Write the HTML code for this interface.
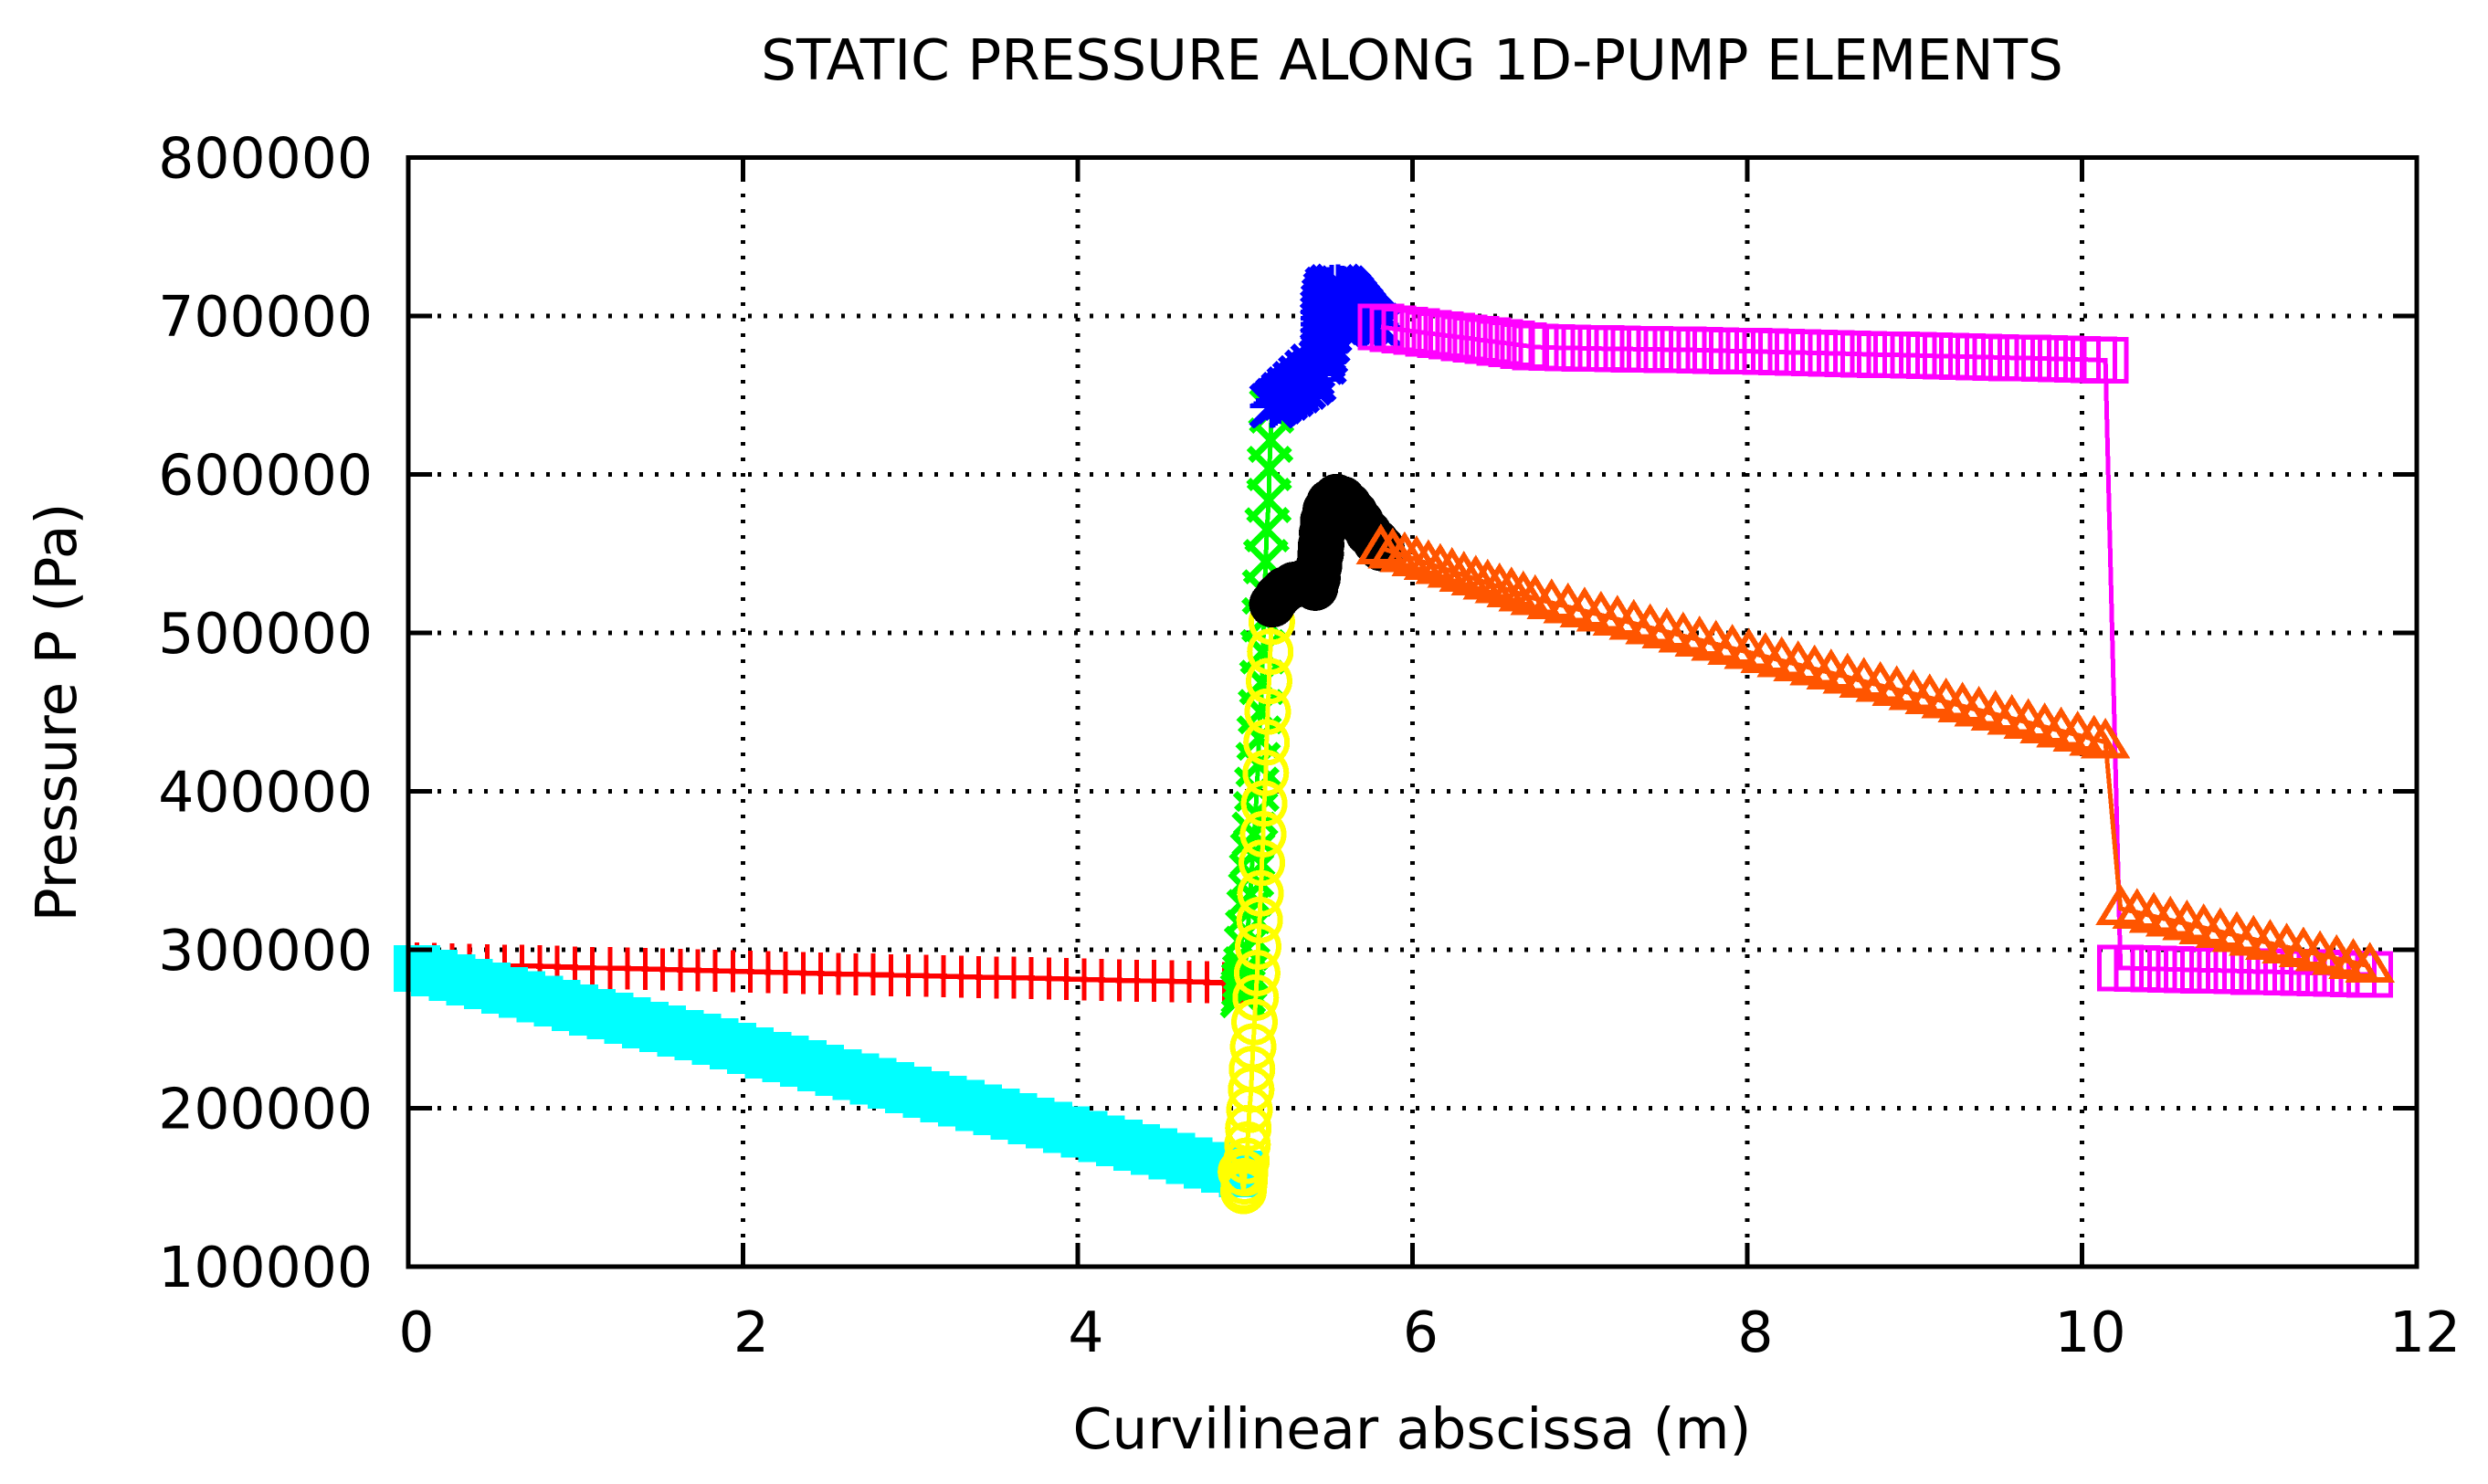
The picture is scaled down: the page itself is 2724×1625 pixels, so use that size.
<!DOCTYPE html>
<html>
<head>
<meta charset="utf-8">
<style>
html,body{margin:0;padding:0;background:#fff;width:2724px;height:1625px;overflow:hidden}
svg{display:block}
text{font-family:"DejaVu Sans","Liberation Sans",sans-serif;fill:#000}
</style>
</head>
<body>
<svg id="chart" xmlns="http://www.w3.org/2000/svg" width="2724" height="1625" viewBox="0 0 2724 1625">
<rect x="0" y="0" width="2724" height="1625" fill="#fff"/>
<g id="grid" shape-rendering="crispEdges"></g>
<g id="series" shape-rendering="crispEdges"></g>
<g id="axes" shape-rendering="crispEdges"></g>
<g id="labels"></g>
<text x="1546" y="87" font-size="61.2" text-anchor="middle">STATIC PRESSURE ALONG 1D-PUMP ELEMENTS</text>
<text x="1546" y="1586" font-size="61.5" text-anchor="middle">Curvilinear abscissa (m)</text>
<text x="0" y="0" font-size="61.5" text-anchor="middle" transform="translate(83 780) rotate(-90)">Pressure P (Pa)</text>
</svg>
<script>
const xTicks = [0,2,4,6,8,10,12];
const xTickLabels = ["0","2","4","6","8","10","12"];
const yTicks = [100000,200000,300000,400000,500000,600000,700000,800000];
const yTickLabels = ["100000","200000","300000","400000","500000","600000","700000","800000"];

const redX = [0.051,0.156,0.261,0.366,0.471,0.576,0.680,0.785,0.890,0.995,1.100,1.205,1.310,1.415,1.520,1.625,1.729,1.834,1.939,2.044,2.149,2.254,2.359,2.464,2.569,2.674,2.778,2.883,2.988,3.093,3.198,3.303,3.408,3.513,3.618,3.723,3.827,3.932,4.037,4.142,4.247,4.352,4.457,4.562,4.667,4.772,4.876,4.981];
const redP = [291400,291100,290800,290500,290300,290000,289800,289500,289200,288900,288600,288400,288100,287800,287500,287300,287000,286700,286400,286100,285900,285600,285300,285000,284800,284500,284300,284000,283800,283500,283300,283000,282800,282500,282300,282000,281800,281500,281300,281000,280800,280500,280300,280000,279800,279500,279000,278800];

const greenX = [4.985,4.988,4.992,4.998,5.003,5.008,5.016,5.023,5.032,5.038,5.045,5.054,5.063,5.069,5.078,5.083,5.092,5.100,5.105,5.114,5.116,5.123,5.130,5.141,5.145,5.152,5.158];
const greenP = [271000,273500,278000,283000,288000,300800,311100,324000,335100,347200,360100,372900,385800,401300,416800,433500,450300,468800,488100,508200,525900,545000,565100,583600,603700,621600,640000];

const blueX = [5.160,5.167,5.181,5.194,5.203,5.218,5.229,5.240,5.254,5.263,5.276,5.291,5.298,5.312,5.327,5.332,5.349,5.363,5.369,5.385,5.400,5.405,5.412,5.454,5.465,5.469,5.467,5.465,5.462,5.462,5.462,5.463,5.467,5.472,5.481,5.509,5.509,5.509,5.505,5.494,5.481,5.472,5.563,5.563,5.560,5.491,5.518,5.554,5.582,5.618,5.654,5.691,5.727,5.600,5.618,5.636,5.654,5.672,5.691,5.709,5.727,5.745,5.763,5.787,5.811];
const blueP = [643300,643500,644800,646800,645800,648100,650400,648100,651000,653900,650400,653900,657300,652700,656900,661000,655000,659800,664600,657700,663500,668300,659800,670800,674600,679400,683300,687100,690900,694800,698600,702500,706300,710200,714000,711100,704400,697700,690900,684200,677500,670800,714000,707300,700600,716900,718400,718800,717800,709200,704400,699600,695700,715900,714000,711700,709200,706900,704400,702100,699600,697700,695700,694200,692900];

const magentaX = [5.811,5.882,5.953,6.024,6.095,6.166,6.236,6.307,6.378,6.449,6.520,6.591,6.662,6.733,6.831,6.929,7.028,7.126,7.224,7.322,7.420,7.519,7.617,7.715,7.813,7.911,8.010,8.108,8.206,8.304,8.402,8.501,8.599,8.697,8.795,8.893,8.992,9.090,9.188,9.286,9.384,9.483,9.581,9.679,9.777,9.875,9.974,10.072,10.14,10.23,10.329,10.429,10.528,10.627,10.727,10.826,10.925,11.025,11.124,11.223,11.323,11.422,11.521,11.621,11.72];
const magentaP = [693000,692000,691100,690100,689100,688200,687200,686300,685300,684300,683400,682400,681400,680400,680000,679800,679600,679400,679200,679100,678900,678800,678700,678400,678200,677900,677700,677400,677200,676900,676700,676400,676200,675900,675600,675400,675100,674900,674600,674400,674100,673900,673600,673400,673100,672900,672600,672400,672000,288500,288200,288000,287700,287400,287100,286900,286600,286300,286100,285800,285500,285300,285000,284700,284400];

const cyanX = [0.051,0.156,0.261,0.366,0.471,0.576,0.680,0.785,0.890,0.995,1.100,1.205,1.310,1.415,1.520,1.625,1.729,1.834,1.939,2.044,2.149,2.254,2.359,2.464,2.569,2.674,2.778,2.883,2.988,3.093,3.198,3.303,3.408,3.513,3.618,3.723,3.827,3.932,4.037,4.142,4.247,4.352,4.457,4.562,4.667,4.772,4.876,4.981];
const cyanP = [288200,285300,282400,279500,277200,274400,271900,269000,266300,263400,260500,258200,255300,252500,250200,247300,245000,242100,239200,236300,233400,231100,228200,225400,222600,219800,217000,214300,211500,208700,205900,203100,200300,197600,194800,192000,189200,186400,183600,180800,178100,175300,172500,169700,166900,164100,161300,158600];

const yellowX = [4.975,4.990,4.992,4.996,4.999,5.008,5.014,5.019,5.026,5.036,5.041,5.048,5.056,5.063,5.072,5.078,5.087,5.092,5.100,5.108,5.114,5.123,5.128,5.135,5.143,5.150,5.159];
const yellowP = [160000,147800,150000,153900,159000,166800,177000,187400,199000,211900,224700,238900,254400,269800,285300,302000,318800,335600,354900,372900,392300,411600,430900,450300,469600,488100,507000];

const blackX = [5.163,5.194,5.236,5.291,5.345,5.391,5.418,5.432,5.441,5.451,5.454,5.460,5.467,5.482,5.505,5.545,5.582,5.618,5.654,5.691,5.736,5.782,5.814];
const blackP = [518100,522900,527100,530200,531500,530200,528600,534400,542100,549800,555500,563200,570900,577600,582400,585700,584300,580500,575700,569900,563200,557400,553600];

const orangeX = [5.811,5.882,5.953,6.024,6.095,6.166,6.236,6.307,6.378,6.449,6.520,6.591,6.662,6.733,6.831,6.929,7.028,7.126,7.224,7.322,7.420,7.519,7.617,7.715,7.813,7.911,8.010,8.108,8.206,8.304,8.402,8.501,8.599,8.697,8.795,8.893,8.992,9.090,9.188,9.286,9.384,9.483,9.581,9.679,9.777,9.875,9.974,10.072,10.14,10.23,10.329,10.429,10.528,10.627,10.727,10.826,10.925,11.025,11.124,11.223,11.323,11.422,11.521,11.621,11.72];
const orangeP = [553600,551100,548700,546200,543700,541300,538800,536400,533900,531400,529000,526500,524000,521600,519000,516400,513800,511200,508600,506000,503300,500700,498100,495500,492900,490300,487700,485100,482500,479900,477300,474700,472000,469400,466800,464200,461600,459000,456400,453800,451200,448600,446000,443400,440700,438100,435500,432900,431000,326000,323600,321100,318700,316300,313900,311400,309000,306600,304100,301700,299300,296900,294400,292000,289600];

const NS = "http://www.w3.org/2000/svg";
const plotLeft = 447, plotRight = 2646, plotBottom = 1387, plotTop = 172.5;
const xMin = 0, xMax = 12, yMin = 100000, yMax = 800000;
function sx(v){ return plotLeft + (v - xMin) * (plotRight - plotLeft) / (xMax - xMin); }
function sy(v){ return plotBottom - (v - yMin) * (plotBottom - plotTop) / (yMax - yMin); }
function mk(tag, attrs, parent){
  const e = document.createElementNS(NS, tag);
  for (const k in attrs) e.setAttribute(k, attrs[k]);
  parent.appendChild(e);
  return e;
}
const grid = document.getElementById("grid");
const seriesG = document.getElementById("series");
const axes = document.getElementById("axes");
const labels = document.getElementById("labels");

/* grid */
yTicks.forEach(function(v){
  if (v === yMin || v === yMax) return;
  const l = mk("line",{x1:plotLeft-2,x2:plotRight,y1:sy(v),y2:sy(v),stroke:"#000","stroke-width":5,"stroke-dasharray":"4 13"},grid);
  
  
});
xTicks.forEach(function(v){
  if (v === xMin || v === xMax) return;
  const l = mk("line",{x1:sx(v),x2:sx(v),y1:plotBottom+2,y2:plotTop,stroke:"#000","stroke-width":5,"stroke-dasharray":"4 13"},grid);
  
  
});

/* markers */
function drawMarker(g, kind, color, px, py){
  const st = {stroke:color,"stroke-width":5,fill:"none"};
  const dg = {stroke:color,"stroke-width":7,fill:"none"};
  function ln(a,b,c,d){ mk("line",Object.assign({x1:px+a,y1:py+b,x2:px+c,y2:py+d},st),g); }
  function dl(a,b,c,d){ mk("line",Object.assign({x1:px+a,y1:py+b,x2:px+c,y2:py+d},dg),g); }
  if (kind === "plus"){ ln(-23,0,23,0); ln(0,-23,0,23); }
  else if (kind === "cross"){ dl(-22.5,-22.5,22.5,22.5); dl(-22.5,22.5,22.5,-22.5); }
  else if (kind === "star"){ ln(-24,0,24,0); ln(0,-24,0,24); dl(-22.5,-22.5,22.5,22.5); dl(-22.5,22.5,22.5,-22.5); }
  else if (kind === "square"){ mk("rect",Object.assign({x:px-23,y:py-23,width:46,height:46},st),g); }
  else if (kind === "fsquare"){ mk("rect",{x:px-25.5,y:py-25.5,width:51,height:51,fill:color},g); }
  else if (kind === "circle"){ mk("circle",{cx:px,cy:py,r:22.5,stroke:color,"stroke-width":6,fill:"none"},g); }
  else if (kind === "fcircle"){ mk("circle",{cx:px,cy:py,r:25.5,fill:color},g); }
  else if (kind === "triangle"){ mk("polygon",{points:(px)+","+(py-21)+" "+(px-22)+","+(py+15)+" "+(px+22)+","+(py+15),"stroke-linejoin":"miter","stroke-miterlimit":10,stroke:color,"stroke-width":6,fill:"none"},g); }
}
function drawSeries(xs, ps, kind, color){
  const g = mk("g",{},seriesG);
  const pts = xs.map(function(v,i){ return sx(v)+","+sy(ps[i]); }).join(" ");
  mk("polyline",{points:pts,fill:"none",stroke:color,"stroke-width":5},g);
  xs.forEach(function(v,i){ drawMarker(g, kind, color, sx(v), sy(ps[i])); });
  return g;
}
const sRed = drawSeries(redX, redP, "plus", "#ff0000");


const sGreen = drawSeries(greenX, greenP, "cross", "#00ff00");


const sBlue = drawSeries(blueX, blueP, "star", "#0000ff");


const sMagenta = drawSeries(magentaX, magentaP, "square", "#ff00ff");


const sCyan = drawSeries(cyanX, cyanP, "fsquare", "#00ffff");


const sYellow = drawSeries(yellowX, yellowP, "circle", "#ffff00");


const sBlack = drawSeries(blackX, blackP, "fcircle", "#000000");


const sOrange = drawSeries(orangeX, orangeP, "triangle", "#ff5500");



/* frame and ticks */
const frame = mk("rect",{x:plotLeft,y:plotTop,width:plotRight-plotLeft,height:plotBottom-plotTop,fill:"none",stroke:"#000","stroke-width":5},axes);


const tickLen = 26;
xTicks.forEach(function(v){
  const a = mk("line",{x1:sx(v),x2:sx(v),y1:plotBottom,y2:plotBottom-tickLen,stroke:"#000","stroke-width":5},axes);
  
  
  const b = mk("line",{x1:sx(v),x2:sx(v),y1:plotTop,y2:plotTop+tickLen,stroke:"#000","stroke-width":5},axes);
  
  
});
yTicks.forEach(function(v){
  const a = mk("line",{x1:plotLeft,x2:plotLeft+tickLen,y1:sy(v),y2:sy(v),stroke:"#000","stroke-width":5},axes);
  
  
  const b = mk("line",{x1:plotRight,x2:plotRight-tickLen,y1:sy(v),y2:sy(v),stroke:"#000","stroke-width":5},axes);
  
  
});

/* tick labels */
xTicks.forEach(function(v,i){
  const t = mk("text",{x:sx(v)+9,y:1480,"font-size":61.5,"text-anchor":"middle"},labels);
  t.textContent = xTickLabels[i];
  
  
});
yTicks.forEach(function(v,i){
  const t = mk("text",{x:408,y:sy(v)+22,"font-size":61.5,"text-anchor":"end"},labels);
  t.textContent = yTickLabels[i];
  
  
});
</script>
</body>
</html>
